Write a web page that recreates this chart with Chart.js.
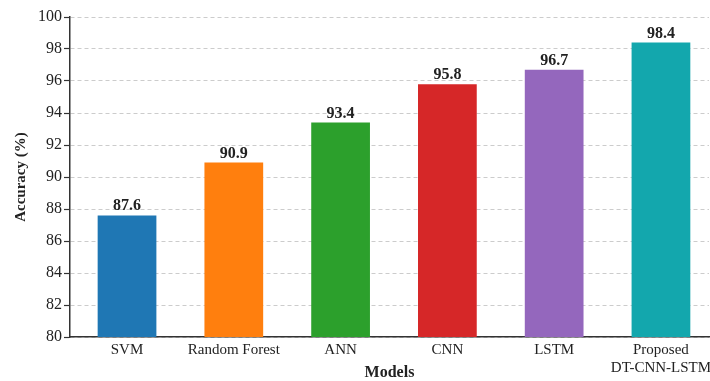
<!DOCTYPE html>
<html>
<head>
<meta charset="utf-8">
<script src="https://cdn.jsdelivr.net/npm/chart.js@4"></script>
<style>
  html, body { margin: 0; padding: 0; background: #ffffff; }
  #wrap { width: 710px; height: 381px; }
</style>
</head>
<body>
<div id="wrap"><canvas id="chart" width="710" height="381"></canvas></div>
<script>
// Model names shown under each bar (arrays become multi-line labels)
const models = ['SVM', 'Random Forest', 'ANN', 'CNN', 'LSTM', ['Proposed', 'DT-CNN-LSTM']];
// Classification accuracy in percent
const accuracy = [87.6, 90.9, 93.4, 95.8, 96.7, 98.4];
// Bar fill colours, one per model
const barColors = ['#1f77b4', '#ff7f0e', '#2ca02c', '#d62728', '#9467bd', '#13a7ad'];
// Y axis range and step
const yMin = 80, yMax = 100, yStep = 2;

const SERIF = '"Liberation Serif", "Times New Roman", Times, serif';
const TEXT = '#222222';
const AXIS = '#333333';

// Writes each bar's value just above its top
const valueLabels = {
  id: 'valueLabels',
  afterDatasetsDraw(chart) {
    const ctx = chart.ctx;
    const meta = chart.getDatasetMeta(0);
    ctx.save();
    ctx.font = 'bold 16px ' + SERIF;
    ctx.fillStyle = TEXT;
    ctx.textAlign = 'center';
    ctx.textBaseline = 'alphabetic';
    meta.data.forEach((bar, i) => {
      ctx.fillText(accuracy[i].toFixed(1), bar.x, bar.y - 5);
    });
    ctx.restore();
  }
};

new Chart(document.getElementById('chart'), {
  type: 'bar',
  data: {
    datasets: [{
      data: accuracy.map((v, i) => ({ x: i, y: v })),
      backgroundColor: barColors,
      borderWidth: 0,
      barPercentage: 0.55,
      categoryPercentage: 1.0
    }]
  },
  options: {
    responsive: false,
    devicePixelRatio: 1,
    animation: false,
    layout: { padding: { left: 0, right: 1, top: 17, bottom: 0 } },
    plugins: {
      legend: { display: false },
      tooltip: { enabled: false }
    },
    scales: {
      x: {
        type: 'linear',
        offset: false,
        min: -0.534,
        max: 5.45,
        afterBuildTicks(scale) {
          scale.ticks = models.map((_, i) => ({ value: i }));
        },
        afterFit(scale) {
          scale.height = 44;
          // let the last two-line label run to the canvas edge
          scale.paddingLeft = 0;
          scale.paddingRight = 0;
        },
        grid: { display: false, drawTicks: false },
        border: { display: true, color: AXIS, width: 1.5 },
        ticks: {
          autoSkip: false,
          maxRotation: 0,
          minRotation: 0,
          padding: 4,
          color: TEXT,
          font: { family: SERIF, size: 15, lineHeight: 1.2 },
          callback: (value) => models[value]
        },
        title: {
          display: true,
          text: 'Models',
          color: TEXT,
          font: { family: SERIF, size: 16, weight: 'bold', lineHeight: 1 },
          padding: { top: 0, bottom: 0 }
        }
      },
      y: {
        min: yMin,
        max: yMax,
        afterFit(scale) { scale.width = 70; },
        grid: {
          color: '#cccccc',
          lineWidth: 1,
          drawTicks: true,
          tickLength: 6,
          tickColor: AXIS,
          tickWidth: 1.2
        },
        border: { display: true, color: AXIS, width: 1.5, dash: [4, 3] },
        ticks: {
          stepSize: yStep,
          padding: 2,
          color: TEXT,
          font: { family: SERIF, size: 16 }
        },
        title: {
          display: true,
          text: 'Accuracy (%)',
          color: TEXT,
          font: { family: SERIF, size: 15, weight: 'bold', lineHeight: 1.2 },
          padding: { top: 12, bottom: 0 }
        }
      }
    }
  },
  plugins: [valueLabels]
});
</script>
</body>
</html>
